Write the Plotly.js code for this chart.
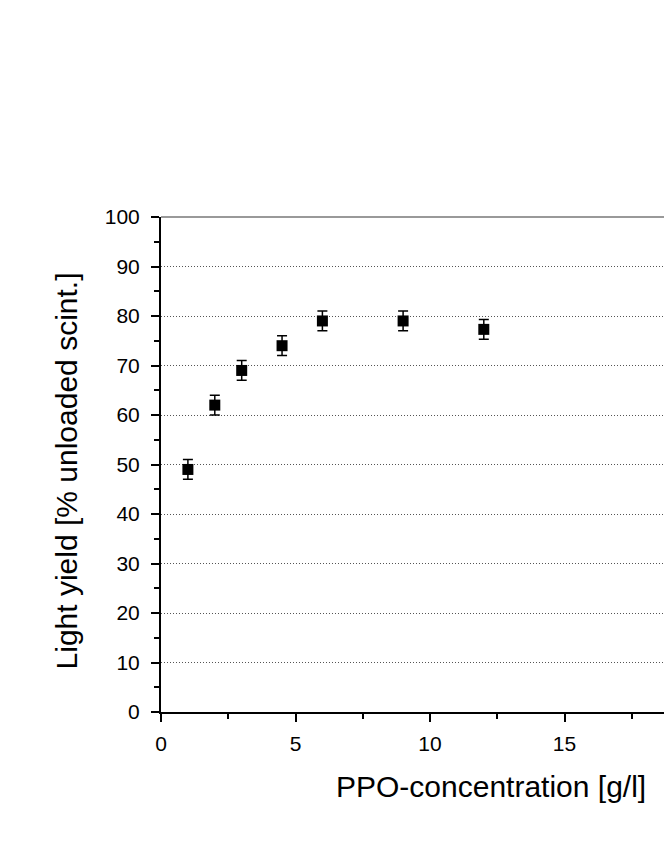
<!DOCTYPE html>
<html>
<head>
<meta charset="utf-8">
<script src="https://cdn.plot.ly/plotly-3.0.1.min.js"></script>
<style>
  html, body { margin: 0; padding: 0; overflow: hidden; background: #fff; }
  #chart { width: 720px; height: 860px; }
</style>
</head>
<body>
<div id="chart"></div>
<script>
// Data
const ppoConcentration = [1, 2, 3, 4.5, 6, 9, 12];          // g/l
const lightYield       = [49, 62, 69, 74, 79, 79, 77.3];    // % of unloaded scintillator
const lightYieldError  = [2, 2, 2, 2, 2, 2, 2];

const xTickValues = [0, 5, 10, 15];
const yTickValues = [0, 10, 20, 30, 40, 50, 60, 70, 80, 90, 100];

const xTitle = 'PPO-concentration [g/l]';
const yTitle = 'Light yield [% unloaded scint.]';

const FONT = '"Liberation Sans", Arial, Helvetica, sans-serif';

const trace = {
  type: 'scatter',
  mode: 'markers',
  x: ppoConcentration,
  y: lightYield,
  marker: { symbol: 'square', size: 11, color: '#000' },
  error_y: { type: 'data', array: lightYieldError, visible: true,
             color: '#000', thickness: 1.5, width: 5 },
  showlegend: false,
  hoverinfo: 'x+y'
};

const layout = {
  width: 720,
  height: 860,
  margin: { l: 161, r: 21, t: 217, b: 148, pad: 0 },
  paper_bgcolor: '#fff',
  plot_bgcolor: '#fff',
  font: { family: FONT, color: '#000' },
  xaxis: {
    range: [0, 20],
    tickvals: xTickValues,
    ticktext: xTickValues.map(String),
    ticks: 'outside', ticklen: 8, tickwidth: 2, tickcolor: '#000',
    minor: { dtick: 2.5, tick0: 0, ticks: 'outside', ticklen: 5, tickwidth: 2, tickcolor: '#000', showgrid: false },
    showline: true, linecolor: '#000', linewidth: 2,
    showgrid: false, zeroline: false,
    tickfont: { family: FONT, size: 21, color: '#000' },
    ticklabelstandoff: 4
  },
  yaxis: {
    range: [0, 100],
    tickvals: yTickValues,
    ticktext: yTickValues.map(String),
    ticks: 'outside', ticklen: 8, tickwidth: 2, tickcolor: '#000',
    minor: { dtick: 5, tick0: 0, ticks: 'outside', ticklen: 5, tickwidth: 2, tickcolor: '#000', showgrid: false },
    showline: true, linecolor: '#000', linewidth: 2,
    showgrid: true, gridcolor: '#555', gridwidth: 1, griddash: '1px,2px',
    zeroline: false,
    tickfont: { family: FONT, size: 21, color: '#000' },
    ticklabelstandoff: 7
  },
  shapes: [
    { type: 'line', xref: 'paper', yref: 'paper', x0: 0, x1: 1, y0: 1, y1: 1,
      line: { color: '#777', width: 1.5 } }
  ],
  annotations: [
    { text: xTitle, xref: 'paper', yref: 'paper', x: 0.614, y: -0.1495,
      xanchor: 'center', yanchor: 'middle', showarrow: false,
      font: { family: FONT, size: 30, color: '#000' } },
    { text: yTitle, xref: 'paper', yref: 'paper', x: -0.1766, y: 0.488,
      xanchor: 'center', yanchor: 'middle', showarrow: false, textangle: -90,
      font: { family: FONT, size: 30, color: '#000' } }
  ]
};

Plotly.newPlot('chart', [trace], layout, { displayModeBar: false, staticPlot: true });
</script>
</body>
</html>
